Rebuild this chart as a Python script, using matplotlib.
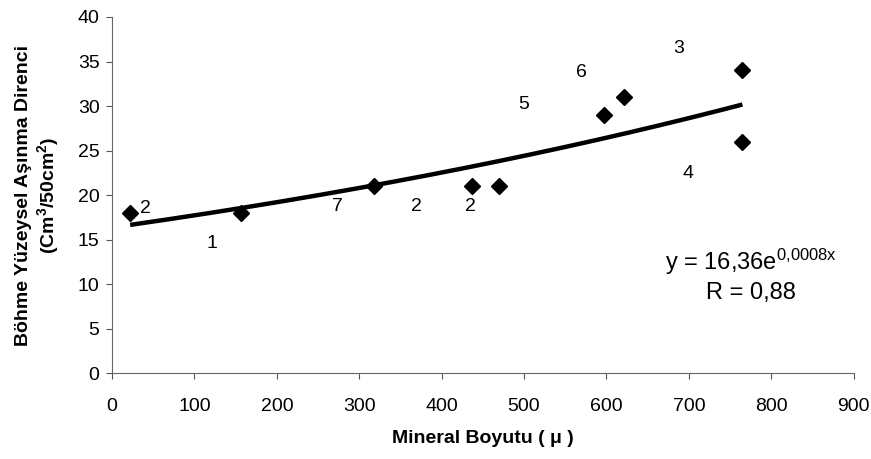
import numpy as np
import matplotlib
matplotlib.use("Agg")
import matplotlib.pyplot as plt

plt.rcParams["font.family"] = ["Liberation Sans", "DejaVu Sans"]
plt.rcParams["mathtext.fontset"] = "custom"
plt.rcParams["mathtext.rm"] = "Liberation Sans"
plt.rcParams["mathtext.bf"] = "Liberation Sans:bold"
plt.rcParams["mathtext.default"] = "regular"

# data
mineral_size = [22, 156, 318, 437, 470, 597, 621, 765, 765]
abrasion = [18, 18, 21, 21, 21, 29, 31, 34, 26]

# sample-group labels scattered around the points
label_text = ["2", "1", "7", "2", "2", "5", "6", "3", "4"]
label_x = [40, 121, 273, 370, 435, 500, 570, 688, 699]
label_y = [18.5, 14.6, 18.7, 18.7, 18.7, 30.2, 33.8, 36.5, 22.4]

# exponential trend y = a * e^(b x)
fit_a = 16.36
fit_b = 0.0008

fig = plt.figure(figsize=(8.71, 4.59), dpi=100)
ax = fig.add_axes([0.1286, 0.187, 0.8515, 0.776])

xs = np.linspace(min(mineral_size), max(mineral_size), 200)
ax.plot(xs, fit_a * np.exp(fit_b * xs), color="black", lw=3.2,
        solid_capstyle="butt", zorder=2)
ax.plot(mineral_size, abrasion, "D", color="black", markersize=8.5, zorder=3)

for t, x, y in zip(label_text, label_x, label_y):
    ax.text(x, y, t, fontsize=14, ha="center", va="center")

ax.text(775, 12.5, "y = 16,36e$^{0{,}0008x}$", fontsize=17,
        ha="center", va="center")
ax.text(775, 9.0, "R = 0,88", fontsize=17, ha="center", va="center")

ax.set_xlim(0, 900)
ax.set_ylim(0, 40)
ax.set_xticks(range(0, 901, 100))
ax.set_yticks(range(0, 41, 5))
ax.tick_params(labelsize=14, length=4, width=0.8, color="#555555",
               direction="out")
ax.tick_params(axis="x", pad=14)
ax.tick_params(axis="y", pad=5)

for side in ["top", "right"]:
    ax.spines[side].set_visible(False)
for side in ["left", "bottom"]:
    ax.spines[side].set_color("#666666")
    ax.spines[side].set_linewidth(0.8)

ax.set_xlabel("Mineral Boyutu ( μ )", fontsize=14, fontweight="bold",
              labelpad=11)
ax.set_ylabel("Böhme Yüzeysel Aşınma Direnci\n(Cm$^{\\mathbf{3}}$/50cm$^{\\mathbf{2}}$)",
              fontsize=14, fontweight="bold", labelpad=12, linespacing=1.15)

fig.savefig("out.png", dpi=100)
